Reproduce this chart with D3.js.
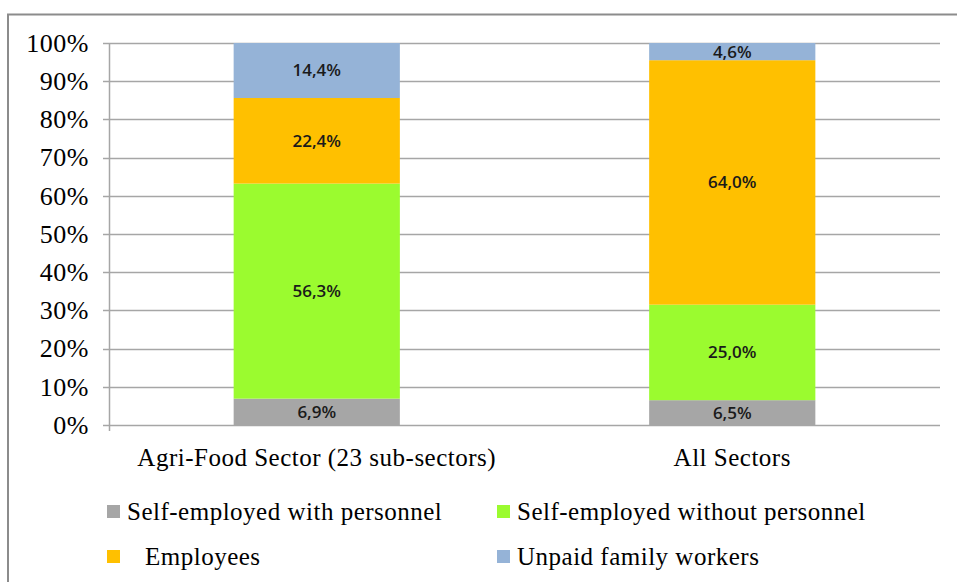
<!DOCTYPE html>
<html>
<head>
<meta charset="utf-8">
<script src="https://cdn.jsdelivr.net/npm/d3@7"></script>
<style>
  html, body { margin: 0; padding: 0; background: #fff; }
  svg { display: block; }
  .serif { font-family: "Liberation Serif", "Times New Roman", "DejaVu Serif", serif; }
</style>
</head>
<body>
<svg id="chart" width="957" height="582"></svg>
<script>
// Employment status shares by sector (percent)
const categories = ["Agri-Food Sector (23 sub-sectors)", "All Sectors"];
const seriesNames = ["Self-employed with personnel", "Self-employed without personnel", "Employees", "Unpaid family workers"];
const selfWithPersonnel = [6.9, 6.5];
const selfWithoutPersonnel = [56.3, 25.0];
const employees = [22.4, 64.0];
const unpaidFamily = [14.4, 4.6];
const yTicks = [0, 10, 20, 30, 40, 50, 60, 70, 80, 90, 100];
const colors = ["#A6A6A6", "#9BFB2F", "#FFC000", "#95B3D7"];

const seriesValues = [selfWithPersonnel, selfWithoutPersonnel, employees, unpaidFamily];
const rows = categories.map((c, i) => {
  const r = { category: c };
  seriesNames.forEach((s, j) => { r[s] = seriesValues[j][i]; });
  return r;
});

const svg = d3.select("#chart");

// outer frame
svg.append("path")
  .attr("d", "M8,582 L8,14.5 L957,14.5")
  .attr("fill", "none").attr("stroke", "#8C8C8C").attr("stroke-width", 2);

const plot = { left: 109, right: 940, top: 43, bottom: 425 };

const x = d3.scaleBand().domain(categories).range([plot.left, plot.right]).paddingInner(0.6).paddingOuter(0.3);
const y = d3.scaleLinear().domain([0, 100]).range([plot.bottom, plot.top]);

// gridlines
svg.append("g").selectAll("line").data(yTicks).join("line")
  .attr("x1", plot.left - 6).attr("x2", plot.right)
  .attr("y1", d => Math.round(y(d)) + 0.5).attr("y2", d => Math.round(y(d)) + 0.5)
  .attr("stroke", "#A6A6A6").attr("stroke-width", 1.5);

// y axis
const yAxis = svg.append("g").attr("transform", `translate(${plot.left},0)`)
  .call(d3.axisLeft(y).tickValues(yTicks).tickFormat(d => d + "%").tickSize(0).tickPadding(20));
yAxis.select(".domain").remove();
yAxis.attr("font-family", null).attr("font-size", null);
yAxis.selectAll("text")
  .attr("class", "serif")
  .attr("font-size", 26).attr("letter-spacing", 0.5).attr("fill", "#000");
svg.append("line")
  .attr("x1", plot.left + 0.5).attr("x2", plot.left + 0.5)
  .attr("y1", plot.top).attr("y2", plot.bottom + 6)
  .attr("stroke", "#A6A6A6").attr("stroke-width", 1.5);

// stacked bars
const stack = d3.stack().keys(seriesNames);
const stacked = stack(rows);

const layers = svg.append("g").selectAll("g").data(stacked).join("g")
  .attr("fill", (d, i) => colors[i]);

layers.selectAll("rect").data(d => d).join("rect")
  .attr("x", d => x(d.data.category))
  .attr("width", x.bandwidth())
  .attr("y", d => y(Math.min(d[1], 100)))
  .attr("height", d => y(d[0]) - y(Math.min(d[1], 100)));

// value labels
const labels = svg.append("g");
stacked.forEach((layer) => {
  layer.forEach((d) => {
    const mid = (d[0] + Math.min(d[1], 100)) / 2;
    labels.append("text")
      .attr("x", x(d.data.category) + x.bandwidth() / 2)
      .attr("y", y(mid))
      .attr("dy", "0.35em")
      .attr("text-anchor", "middle")
      .attr("font-family", "'Open Sans', 'Noto Sans', sans-serif")
      .attr("font-size", 17).attr("font-weight", 600)
      .attr("fill", "#1a1a1a")
      .text(d3.format(".1f")(d[1] - d[0]).replace(".", ",") + "%");
  });
});

// category axis labels
svg.append("g").selectAll("text").data(categories).join("text")
  .attr("class", "serif")
  .attr("x", d => x(d) + x.bandwidth() / 2)
  .attr("y", 466)
  .attr("text-anchor", "middle")
  .attr("font-size", 25).attr("letter-spacing", 0.5).attr("fill", "#000")
  .text(d => d);

// legend
const legendItems = [
  { name: seriesNames[0], color: colors[0], x: 107, y: 520, tx: 127 },
  { name: seriesNames[1], color: colors[1], x: 497, y: 520, tx: 517 },
  { name: "Employees", color: colors[2], x: 107, y: 565, tx: 145 },
  { name: seriesNames[3], color: colors[3], x: 497, y: 565, tx: 517 }
];
const lg = svg.append("g").selectAll("g").data(legendItems).join("g");
lg.append("rect")
  .attr("x", d => d.x).attr("y", d => d.y - 15)
  .attr("width", 13).attr("height", 13)
  .attr("fill", d => d.color);
lg.append("text")
  .attr("class", "serif")
  .attr("x", d => d.tx).attr("y", d => d.y)
  .attr("font-size", 25).attr("letter-spacing", 0.5).attr("fill", "#000")
  .text(d => d.name);
</script>
</body>
</html>
